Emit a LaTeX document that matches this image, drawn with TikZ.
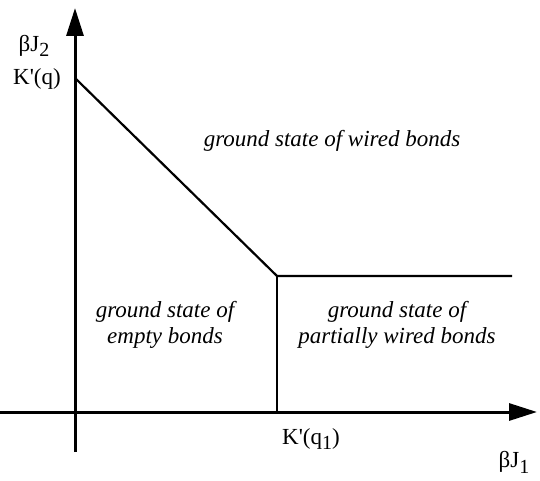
\documentclass[tikz,border=0pt]{standalone}
\usepackage{fontspec}
\setmainfont{Liberation Serif}
\usetikzlibrary{positioning, arrows.meta}
\newcommand{\lowsub}[1]{\raisebox{-0.55ex}{\fontsize{10}{10}\selectfont #1}}

\begin{document}
\begin{tikzpicture}[
                x=0.5pt, y=-0.5pt,
                axis/.style={line width=1.5pt, -{Triangle[length=14pt, width=8.5pt]}},
                border/.style={line width=1.1pt},
                region/.style={font=\fontsize{11.5}{13}\selectfont\itshape, align=center},
                tick/.style={font=\fontsize{11.5}{13}\selectfont}
            ]
            \useasboundingbox (0,0) rectangle (540,481);

            % axes
            \coordinate (origin) at (75,412);
            \coordinate (ybot) at (75,452);
            \coordinate (ytop) at (75,8);
            \coordinate (xleft) at (0,412);
            \coordinate (xright) at (537,412);
            \draw[axis] (ybot) -- (ytop);
            \draw[axis] (xleft) -- (xright);

            % phase boundaries
            \coordinate (kq) at (75,78);
            \coordinate (triple) at (277,276);
            \coordinate (kq1) at (277,412);
            \coordinate (hend) at (512,276);
            \draw[border] (kq) -- (triple) -- (hend);
            \draw[border] (triple) -- (kq1);

            % labels
            \node[tick] (ylab) at (34,46) {βJ\lowsub{2}};
            \node[tick] (kqlab) at (37,79) {K\textquotesingle(q)};
            \node[tick] (kq1lab) at (311,439) {K\textquotesingle(q\lowsub{1})};
            \node[tick] (xlab) at (514,462) {βJ\lowsub{1}};

            \node[region] (wired) at (332,141) {ground state of wired bonds};
            \node[region] (empty) at (165,325) {ground state of\\empty bonds};
            \node[region] (partial) at (397,325) {ground state of\\partially wired bonds};
            \end{tikzpicture}
\end{document}
